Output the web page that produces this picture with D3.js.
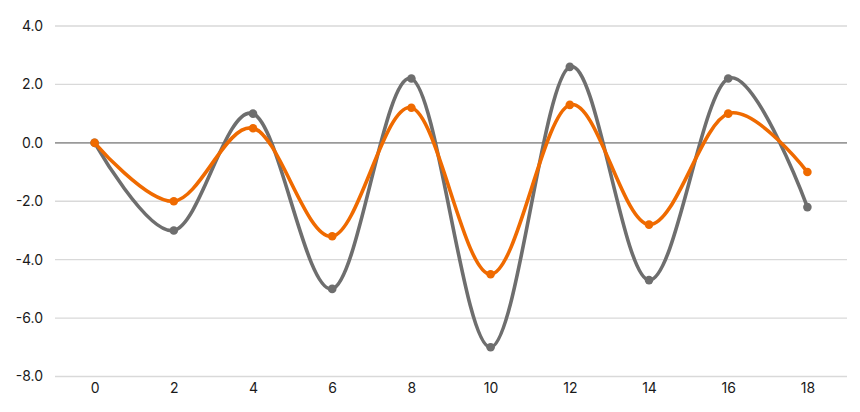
<!DOCTYPE html>
<html>
<head>
<meta charset="utf-8">
<script src="https://cdn.jsdelivr.net/npm/d3@7"></script>
<style>
  html, body { margin: 0; padding: 0; background: #fff; }
  svg { display: block; }
  text { font-family: "Inter", "Open Sans", sans-serif; }
</style>
</head>
<body>
<svg id="chart" width="860" height="412"></svg>
<script>
const xValues = [0, 2, 4, 6, 8, 10, 12, 14, 16, 18];
const graySeries = [0, -3, 1, -5, 2.2, -7, 2.6, -4.7, 2.2, -2.2];
const orangeSeries = [0, -2, 0.5, -3.2, 1.2, -4.5, 1.3, -2.8, 1.0, -1.0];
const yTicks = [-8, -6, -4, -2, 0, 2, 4];
const xTicks = [0, 2, 4, 6, 8, 10, 12, 14, 16, 18];

const svg = d3.select("#chart");
const x = d3.scaleLinear().domain([-1, 19]).range([55, 847]);
const y = d3.scaleLinear().domain([-8, 4]).range([376.5, 26]);

// gridlines
const grid = svg.append("g");
grid.selectAll("line").data(yTicks).join("line")
  .attr("x1", x(-1)).attr("x2", x(19))
  .attr("y1", d => y(d)).attr("y2", d => y(d))
  .attr("stroke", d => d === 0 ? "#9a9a9a" : "#d9d9d9")
  .attr("stroke-width", d => d === 0 ? 1.6 : 1.3);

// y axis labels
const yAxis = d3.axisLeft(y).tickValues(yTicks).tickFormat(d3.format(".1f")).tickSize(0).tickPadding(0);
const gy = svg.append("g").attr("transform", "translate(43,0)").call(yAxis);
gy.select(".domain").remove();
gy.selectAll("text").attr("font-size", 14).attr("fill", "#1a1a1a").attr("font-family", "Inter, 'Open Sans', sans-serif")
  .text(d => d3.format(".1f")(d).replace("−", "-"));

// x axis labels
const xAxis = d3.axisBottom(x).tickValues(xTicks).tickSize(0).tickPadding(0);
const gx = svg.append("g").attr("transform", "translate(0,383)").call(xAxis);
gx.select(".domain").remove();
gx.selectAll("text").attr("font-size", 14).attr("fill", "#1a1a1a").attr("font-family", "Inter, 'Open Sans', sans-serif");

const line = d3.line().x((d, i) => x(xValues[i])).y(d => y(d)).curve(d3.curveCatmullRom.alpha(0));

function drawSeries(data, color) {
  const g = svg.append("g");
  g.append("path").datum(data).attr("d", line)
    .attr("fill", "none").attr("stroke", color).attr("stroke-width", 3.6)
    .attr("stroke-linejoin", "round").attr("stroke-linecap", "round");
  g.selectAll("circle").data(data).join("circle")
    .attr("cx", (d, i) => x(xValues[i])).attr("cy", d => y(d)).attr("r", 4.3)
    .attr("fill", color);
}
drawSeries(graySeries, "#6e6e6e");
drawSeries(orangeSeries, "#ef6a00");
</script>
</body>
</html>
